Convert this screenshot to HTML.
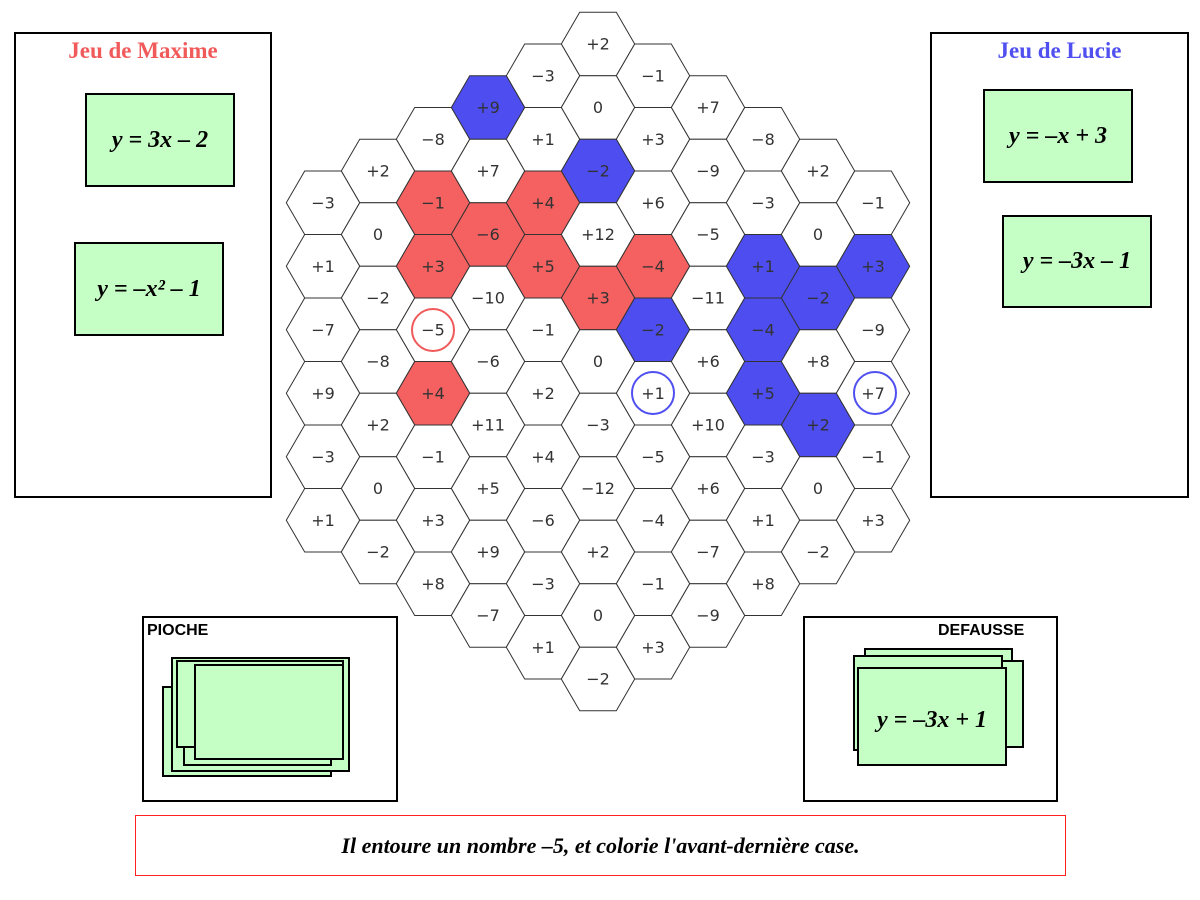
<!DOCTYPE html>
<html><head><meta charset="utf-8"><style>
body{margin:0;width:1200px;height:900px;background:#fff;overflow:hidden;position:relative;font-family:"Liberation Sans",sans-serif}
.box{position:absolute;border:2px solid #000;box-sizing:border-box;background:#fff}
.card{position:absolute;border:2px solid #000;box-sizing:border-box;background:#c6ffc6;display:flex;align-items:center;justify-content:center;font:italic bold 24px "Liberation Serif",serif}
.title{position:absolute;font:bold 23px "Liberation Serif",serif}
.lbl{position:absolute;font:bold 16px "Liberation Sans",sans-serif}
svg{position:absolute;left:0;top:0}
svg text{font:16px "DejaVu Sans",sans-serif;fill:#333;text-anchor:middle;dominant-baseline:central}
</style></head><body>
<div class="box" style="left:14px;top:32px;width:258px;height:466px"></div>
<div class="title" style="left:14px;width:258px;top:38px;text-align:center;color:#f05a5a">Jeu de Maxime</div>
<div class="card" style="left:85px;top:93px;width:150px;height:94px">y = 3x – 2</div>
<div class="card" style="left:74px;top:242px;width:150px;height:94px">y = –x² – 1</div>
<div class="box" style="left:930px;top:32px;width:259px;height:466px"></div>
<div class="title" style="left:930px;width:259px;top:38px;text-align:center;color:#5050f0">Jeu de Lucie</div>
<div class="card" style="left:983px;top:89px;width:150px;height:94px">y = –x + 3</div>
<div class="card" style="left:1002px;top:215px;width:150px;height:93px">y = –3x – 1</div>
<div class="box" style="left:142px;top:616px;width:256px;height:186px"></div>
<div class="lbl" style="left:147px;top:622px">PIOCHE</div>
<div class="card" style="left:162px;top:686px;width:170px;height:91px"></div>
<div class="card" style="left:171px;top:657px;width:179px;height:115px"></div>
<div class="card" style="left:183px;top:663px;width:149px;height:103px"></div>
<div class="card" style="left:176px;top:660px;width:168px;height:88px"></div>
<div class="card" style="left:194px;top:664px;width:150px;height:96px"></div>
<div class="box" style="left:803px;top:616px;width:255px;height:186px"></div>
<div class="lbl" style="left:938px;top:622px">DEFAUSSE</div>
<div class="card" style="left:864px;top:648px;width:149px;height:98px"></div>
<div class="card" style="left:858px;top:660px;width:166px;height:88px"></div>
<div class="card" style="left:853px;top:655px;width:150px;height:96px"></div>
<div class="card" style="left:857px;top:667px;width:150px;height:99px;padding-top:8px">y = –3x + 1</div>
<div style="position:absolute;left:135px;top:815px;width:931px;height:61px;box-sizing:border-box;border:1px solid #ff2020;display:flex;align-items:center;justify-content:center;font:italic bold 22px 'Liberation Serif',serif">Il entoure un nombre –5, et colorie l'avant-dernière case.</div>
<svg width="1200" height="900">
<defs><path id="h" d="M-36.7 0L-18.3 -31.75L18.3 -31.75L36.7 0L18.3 31.75L-18.3 31.75Z" stroke="#333" stroke-width="1"/></defs>
<g id="g"></g>
</svg>
<script>
var R='#f56060',B='#4d4df0',W='#fff';
var rows=[
[[0,'+2']],
[[-1,'−3'],[1,'−1']],
[[-2,'+9',B],[0,'0'],[2,'+7']],
[[-3,'−8'],[-1,'+1'],[1,'+3'],[3,'−8']],
[[-4,'+2'],[-2,'+7'],[0,'−2',B],[2,'−9'],[4,'+2']],
[[-5,'−3'],[-3,'−1',R],[-1,'+4',R],[1,'+6'],[3,'−3'],[5,'−1']],
[[-4,'0'],[-2,'−6',R],[0,'+12'],[2,'−5'],[4,'0']],
[[-5,'+1'],[-3,'+3',R],[-1,'+5',R],[1,'−4',R],[3,'+1',B],[5,'+3',B]],
[[-4,'−2'],[-2,'−10'],[0,'+3',R],[2,'−11'],[4,'−2',B]],
[[-5,'−7'],[-3,'−5'],[-1,'−1'],[1,'−2',B],[3,'−4',B],[5,'−9']],
[[-4,'−8'],[-2,'−6'],[0,'0'],[2,'+6'],[4,'+8']],
[[-5,'+9'],[-3,'+4',R],[-1,'+2'],[1,'+1'],[3,'+5',B],[5,'+7']],
[[-4,'+2'],[-2,'+11'],[0,'−3'],[2,'+10'],[4,'+2',B]],
[[-5,'−3'],[-3,'−1'],[-1,'+4'],[1,'−5'],[3,'−3'],[5,'−1']],
[[-4,'0'],[-2,'+5'],[0,'−12'],[2,'+6'],[4,'0']],
[[-5,'+1'],[-3,'+3'],[-1,'−6'],[1,'−4'],[3,'+1'],[5,'+3']],
[[-4,'−2'],[-2,'+9'],[0,'+2'],[2,'−7'],[4,'−2']],
[[-3,'+8'],[-1,'−3'],[1,'−1'],[3,'+8']],
[[-2,'−7'],[0,'0'],[2,'−9']],
[[-1,'+1'],[1,'+3']],
[[0,'−2']]];
var s='';
rows.forEach(function(r,k){r.forEach(function(c){var x=598+c[0]*55,y=44+k*31.75;
s+='<g transform="translate('+x+','+y+')"><use href="#h" fill="'+(c[2]||W)+'"/><text>'+c[1]+'</text></g>';});});
s+='<circle cx="433" cy="330" r="21" fill="none" stroke="#f05a5a" stroke-width="2"/>';
s+='<circle cx="653" cy="393" r="21" fill="none" stroke="#5050f0" stroke-width="2"/>';
s+='<circle cx="875" cy="393" r="21" fill="none" stroke="#5050f0" stroke-width="2"/>';
document.getElementById('g').innerHTML=s;
</script>
</body></html>
